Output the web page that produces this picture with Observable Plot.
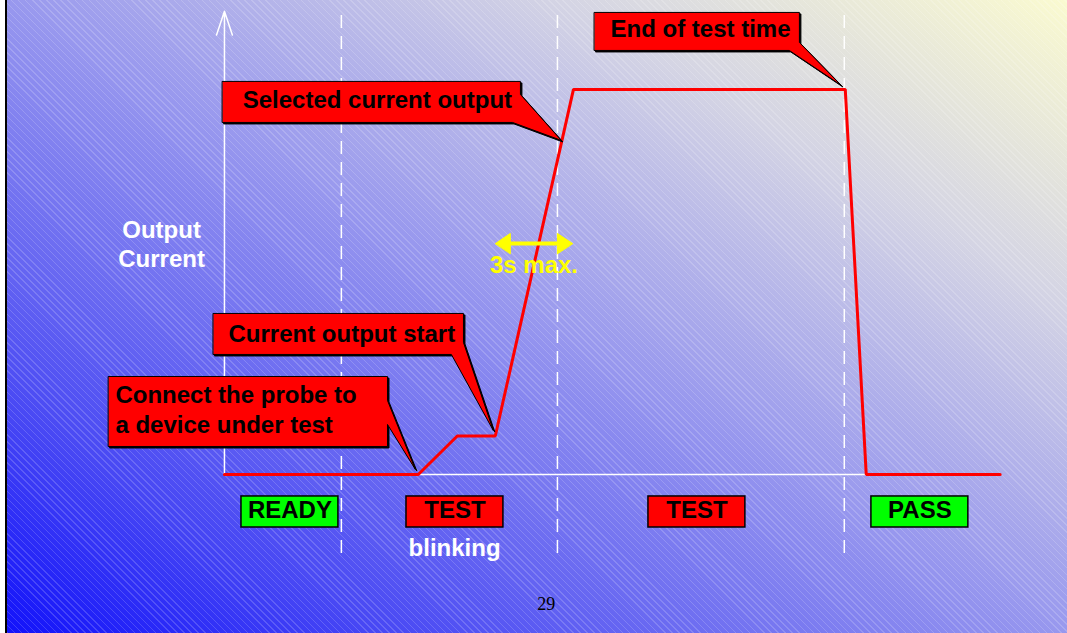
<!DOCTYPE html>
<html><head><meta charset="utf-8">
<script src="https://cdn.jsdelivr.net/npm/d3@7"></script>
<script src="https://cdn.jsdelivr.net/npm/@observablehq/plot@0.6"></script>
<style>
html,body{margin:0;padding:0;background:#fff;}
#slide{position:relative;width:1067px;height:633px;overflow:hidden;background:#fff;}
#bg{position:absolute;left:5px;top:0;right:0;bottom:0;border-left:2px solid #000;
 background:
  repeating-linear-gradient(45deg, rgba(255,255,255,0.17) 0 1px, rgba(255,255,255,0) 1px 5px),
  linear-gradient(to top right, #1212fa 0%, #4646f4 17%, #9898ee 50%, #d4d4e4 76%, #fafad0 100%);}
#chart{position:absolute;left:0;top:0;}
</style></head>
<body>
<div id="slide"><div id="bg"></div><div id="chart"></div></div>
<script>
// Time axis in seconds, current axis in % of selected output
const timeS      = [0, 7.86, 9.44, 10.98, 14.15, 25.17, 26.02, 31.45];
const currentPct = [0, 0,    10,   10,    100,   100,   0,     0];

const phaseBounds = [4.74, 13.5, 25.13];

const statusLabels = ["READY", "TEST", "TEST", "PASS"];
const statusState  = ["ok", "fail", "fail", "ok"];
const statusFrom   = [0.69, 7.38, 17.19, 26.23];
const statusTo     = [4.62, 11.31, 21.12, 30.16];

// "3s max." window
const windowFrom = 11.07, windowTo = 14.07, windowLevel = 60;

// Callout outlines (time, current) – box with pointer tail
const calloutSelected = [[-0.08,102.08],[12.0,102.08],[12.0,98.7],[13.66,86.75],[11.68,91.43],[-0.08,91.43]];
const calloutEnd      = [[15.0,120.0],[23.31,120.0],[23.31,112.21],[25.01,101.04],[22.9,110.13],[15.0,110.13]];
const calloutStart    = [[-0.45,41.82],[9.69,41.82],[9.69,34.29],[10.9,11.43],[9.2,31.17],[-0.45,31.17]];
const calloutConnect  = [[-4.7,25.45],[6.61,25.45],[6.61,19.22],[7.74,1.3],[6.61,12.99],[6.61,7.27],[-4.7,7.27]];

const calloutLabels = ["Selected current output", "End of test time", "Current output start", "Connect the probe to\na device under test"];
const calloutLabelT = [6.2, 19.3, 4.76, -4.42];
const calloutLabelI = [95.1, 113.5, 34.5, 10.65];

const polys = [calloutSelected, calloutEnd, calloutStart, calloutConnect]
  .flatMap((p, k) => p.map(([t, i]) => ({t, i, k})));

const headL = [[10.99,60],[11.59,62.6],[11.59,57.4]].map(([t,i]) => ({t, i, k:0}));
const headR = [[14.11,60],[13.5,62.6],[13.5,57.4]].map(([t,i]) => ({t, i, k:1}));

const signal = timeS.map((t, j) => ({t, i: currentPct[j]}));
const status = statusLabels.map((s, j) => ({s, st: statusState[j], a: statusFrom[j], b: statusTo[j]}));
const statusColor = {ok: "#00ff00", fail: "#ff0000"};

const bold = {fontFamily: "Liberation Sans, Arial, sans-serif", fontWeight: "bold", fontSize: 24};

const chart = Plot.plot({
  width: 1067, height: 633, margin: 0,
  style: {background: "transparent", overflow: "visible"},
  x: {domain: [-9.08, 34.18], axis: null},
  y: {domain: [-41.3, 123.1], axis: null},
  marks: [
    // axes
    Plot.ruleY([0], {x1: 0, x2: 31.45, stroke: "white", strokeWidth: 1.5}),
    Plot.arrow([{a: 0}], {x1: 0, y1: 0, x2: 0, y2: 120.3, stroke: "white", strokeWidth: 1.5, headLength: 25, headAngle: 37}),
    // phase boundaries
    Plot.ruleX(phaseBounds, {y1: -20.5, y2: 120.3, stroke: "white", strokeWidth: 1.5, strokeDasharray: "13 8"}),
    // current waveform
    Plot.line(signal, {x: "t", y: "i", stroke: "#ff0000", strokeWidth: 3, strokeLinejoin: "miter"}),
    // 3s window arrow
    Plot.ruleY([windowLevel], {x1: windowFrom + 0.4, x2: windowTo - 0.4, stroke: "#ffff00", strokeWidth: 4}),
    Plot.line(headL.concat(headR), {x: "t", y: "i", z: "k", curve: "linear-closed", fill: "#ffff00", stroke: "#ffff00", strokeWidth: 1}),
    Plot.text(["3s max."], {x: 12.55, y: 52.2, lineAnchor: "bottom", fill: "#ffff00", ...bold}),
    // callouts
    Plot.line(polys, {x: "t", y: "i", z: "k", curve: "linear-closed", fill: "#000", stroke: "#000", strokeWidth: 1, dx: 1.5, dy: 1.5}),
    Plot.line(polys, {x: "t", y: "i", z: "k", curve: "linear-closed", fill: "#ff0000", stroke: "#000", strokeWidth: 1}),
    Plot.text(calloutLabels.slice(0, 3), {x: (d, j) => calloutLabelT[j], y: (d, j) => calloutLabelI[j], lineAnchor: "bottom", fill: "#000", ...bold}),
    Plot.text([calloutLabels[3]], {x: calloutLabelT[3], y: calloutLabelI[3], lineAnchor: "bottom", textAnchor: "start", lineHeight: 1.25, fill: "#000", ...bold}),
    // y label
    Plot.text(["Output\nCurrent"], {x: -2.55, y: 54.0, lineAnchor: "bottom", lineHeight: 1.2, fill: "white", ...bold}),
    // status indicators
    Plot.rect(status, {x1: "a", x2: "b", y1: -5.71, y2: -13.77, fill: d => statusColor[d.st], stroke: "#000", strokeWidth: 1.5}),
    Plot.text(status, {x: d => (d.a + d.b) / 2, y: -11.43, text: "s", lineAnchor: "bottom", fill: "#000", ...bold}),
    Plot.text(["blinking"], {x: 9.33, y: -21.3, lineAnchor: "bottom", fill: "white", ...bold}),
    // page number
    Plot.text(["29"], {x: 13.05, y: -35.3, lineAnchor: "bottom", fill: "#000", fontFamily: "Liberation Serif, Times New Roman, serif", fontSize: 18})
  ]
});
document.getElementById("chart").appendChild(chart);
</script>
</body></html>
